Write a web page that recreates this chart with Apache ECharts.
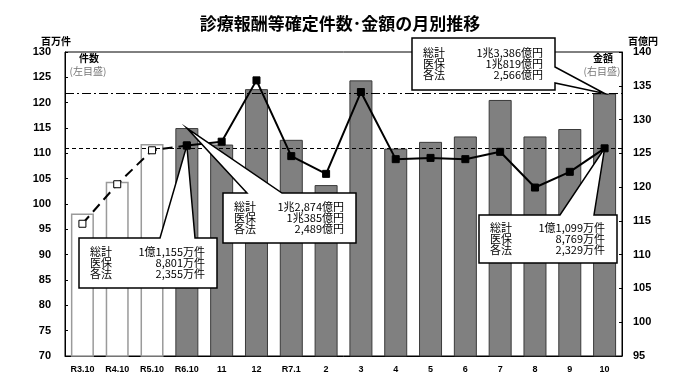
<!DOCTYPE html>
<html><head><meta charset="utf-8">
<script src="https://cdn.jsdelivr.net/npm/echarts@6/dist/echarts.min.js"></script>
<style>html,body{margin:0;padding:0;background:#fff}#c{width:680px;height:388px}</style>
</head><body><div id="c"></div>
<script>
const categories = ['R3.10','R4.10','R5.10','R6.10','11','12','R7.1','2','3','4','5','6','7','8','9','10'];
// 金額 (百億円, right axis) - bars
const amount = [116.1, 120.8, 126.4, 128.74, 126.3, 134.5, 127.0, 120.3, 135.8, 125.7, 126.7, 127.5, 132.9, 127.5, 128.6, 133.86];
// 件数 (百万件, left axis) - line
const count = [96.1, 103.9, 110.6, 111.55, 112.3, 124.4, 109.45, 105.95, 122.1, 108.85, 109.1, 108.85, 110.3, 103.25, 106.35, 110.99];
const leftTicks = [70, 130, 5];
const rightTicks = [95, 140, 5];
const annualStart = 3; // index where monthly (filled) part begins
const refCount = count[count.length - 1];
const refAmount = amount[amount.length - 1];
const calloutTR = [['総計','1兆3,386億円'],['医保','1兆819億円'],['各法','2,566億円']];
const calloutMid = [['総計','1兆2,874億円'],['医保','1兆385億円'],['各法','2,489億円']];
const calloutBL = [['総計','1億1,155万件'],['医保','8,801万件'],['各法','2,355万件']];
const calloutBR = [['総計','1億1,099万件'],['医保','8,769万件'],['各法','2,329万件']];

const JP = '"Noto Sans CJK JP", "Liberation Sans", sans-serif';
const NUM = '"Liberation Sans", Arial, sans-serif';

const barData = amount.map((v, i) => ({
  value: v,
  itemStyle: i < annualStart
    ? { color: '#ffffff', borderColor: '#9a9a9a', borderWidth: 1.5 }
    : { color: '#808080', borderColor: '#3a3a3a', borderWidth: 1 }
}));
const dashedData = count.map((v, i) => i <= annualStart ? v : null);
const solidData = count.map((v, i) => i >= annualStart ? v : null);

const chart = echarts.init(document.getElementById('c'), null, { renderer: 'canvas' });
const option = {
  animation: false,
  backgroundColor: '#fff',
  title: {
    text: '診療報酬等確定件数･金額の月別推移',
    left: 'center', top: 10,
    textStyle: { fontFamily: JP, fontSize: 17, fontWeight: 'bold', color: '#000' }
  },
  grid: { left: 65, right: 58, top: 52, bottom: 32, show: true, borderColor: '#000', borderWidth: 1 },
  xAxis: {
    type: 'category', data: categories, boundaryGap: true,
    axisLine: { lineStyle: { color: '#000', width: 1 } },
    axisTick: { inside: true, length: 3, lineStyle: { color: '#000' } },
    axisLabel: { fontFamily: NUM, fontSize: 9, fontWeight: 'bold', color: '#000', margin: 9, interval: 0 }
  },
  yAxis: [
    {
      type: 'value', min: leftTicks[0], max: leftTicks[1], interval: leftTicks[2], position: 'left',
      name: '百万件', nameLocation: 'end', nameGap: 6,
      nameTextStyle: { fontFamily: JP, fontSize: 10, fontWeight: 'bold', color: '#000', align: 'center', padding: [0, 0, 0, -18] },
      axisLine: { show: true, lineStyle: { color: '#000' } },
      axisTick: { show: true, inside: true, length: 3, lineStyle: { color: '#000' } },
      splitLine: { show: false },
      axisLabel: { fontFamily: NUM, fontSize: 11, fontWeight: 'bold', color: '#000', margin: 14 }
    },
    {
      type: 'value', min: rightTicks[0], max: rightTicks[1], interval: rightTicks[2], position: 'right',
      name: '百億円', nameLocation: 'end', nameGap: 6,
      nameTextStyle: { fontFamily: JP, fontSize: 10, fontWeight: 'bold', color: '#000', align: 'center', padding: [0, 0, 0, 42] },
      axisLine: { show: true, lineStyle: { color: '#000' } },
      axisTick: { show: true, inside: true, length: 3, lineStyle: { color: '#000' } },
      splitLine: { show: false },
      axisLabel: { fontFamily: NUM, fontSize: 11, fontWeight: 'bold', color: '#000', margin: 11 }
    }
  ],
  series: [
    {
      type: 'bar', yAxisIndex: 1, data: barData, barWidth: 23, z: 2,
      markLine: {
        silent: true, symbol: 'none', label: { show: false },
        lineStyle: { color: '#000', type: [9, 3, 2, 3], width: 1.2 },
        data: [{ yAxis: refAmount }]
      }
    },
    {
      type: 'line', yAxisIndex: 0, data: dashedData, z: 5,
      lineStyle: { color: '#000', width: 2, type: [10, 6] },
      symbol: 'rect', symbolSize: 7,
      itemStyle: { color: '#fff', borderColor: '#000', borderWidth: 1 },
      connectNulls: false,
      markLine: {
        silent: true, symbol: 'none', label: { show: false },
        lineStyle: { color: '#000', type: [4, 3], width: 1.2 },
        data: [{ yAxis: refCount }]
      }
    },
    {
      type: 'line', yAxisIndex: 0, data: solidData, z: 6,
      lineStyle: { color: '#000', width: 2 },
      symbol: 'rect', symbolSize: 7,
      itemStyle: { color: '#000', borderColor: '#000' }
    }
  ]
};
chart.setOption(option);

function callout(box, pointer, tip, rows) {
  const [x0, y0, x1, y1] = box;
  let pts;
  if (pointer.side === 'right') {
    pts = [[x0, y0], [x1, y0], [x1, pointer.a], tip, [x1, pointer.b], [x1, y1], [x0, y1]];
  } else if (pointer.side === 'top') {
    pts = [[x0, y0], [pointer.a, y0], tip, [pointer.b, y0], [x1, y0], [x1, y1], [x0, y1]];
  }
  const els = [{
    type: 'polygon', z: 100, shape: { points: pts },
    style: { fill: '#fff', stroke: '#000', lineWidth: 1.5 }
  }];
  const lh = 11;
  const startY = y0 + (y1 - y0 - rows.length * lh) / 2 + lh / 2;
  rows.forEach((r, i) => {
    els.push({ type: 'text', z: 101, x: x0 + 11, y: startY + i * lh,
      style: { text: r[0], font: '11px ' + JP, fill: '#000', textVerticalAlign: 'middle', textAlign: 'left' } });
    els.push({ type: 'text', z: 101, x: x1 - 12, y: startY + i * lh,
      style: { text: r[1], font: '11px ' + JP, fill: '#000', textVerticalAlign: 'middle', textAlign: 'right' } });
  });
  return els;
}

const last = amount.length - 1;
const tipTR = chart.convertToPixel({ seriesIndex: 0 }, [last, amount[last]]);
const tipMid = chart.convertToPixel({ seriesIndex: 0 }, [annualStart, amount[annualStart]]);
const tipBL = chart.convertToPixel({ seriesIndex: 2 }, [annualStart, count[annualStart]]);
const tipBR = chart.convertToPixel({ seriesIndex: 2 }, [last, count[last]]);

let graphics = [];
graphics = graphics.concat(callout([412, 38, 555, 90], { side: 'right', a: 67, b: 83 }, tipTR, calloutTR));
graphics = graphics.concat(callout([223, 193, 356, 243], { side: 'top', a: 247, b: 282 }, tipMid, calloutMid));
graphics = graphics.concat(callout([79, 238, 217, 288], { side: 'top', a: 160, b: 195 }, tipBL, calloutBL));
graphics = graphics.concat(callout([479, 215, 617, 263], { side: 'top', a: 560, b: 594 }, tipBR, calloutBR));
graphics.push(
  { type: 'text', z: 50, x: 89, y: 58, style: { text: '件数', font: 'bold 10px ' + JP, fill: '#000', textAlign: 'center', textVerticalAlign: 'middle' } },
  { type: 'text', z: 50, x: 88, y: 71, style: { text: '(左目盛)', font: '10px ' + JP, fill: '#777', textAlign: 'center', textVerticalAlign: 'middle' } },
  { type: 'text', z: 50, x: 603, y: 58, style: { text: '金額', font: 'bold 10px ' + JP, fill: '#000', textAlign: 'center', textVerticalAlign: 'middle' } },
  { type: 'text', z: 50, x: 602, y: 71, style: { text: '(右目盛)', font: '10px ' + JP, fill: '#777', textAlign: 'center', textVerticalAlign: 'middle' } }
);
chart.setOption({ graphic: graphics });
</script>
</body></html>
